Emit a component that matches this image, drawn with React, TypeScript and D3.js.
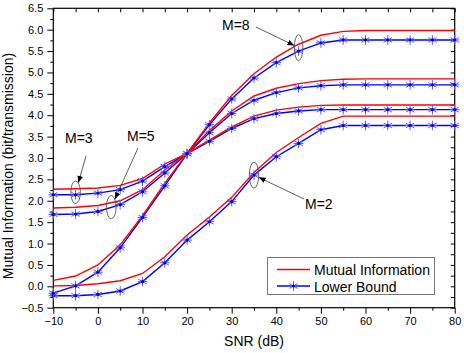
import * as d3 from 'd3'
import React, { useEffect, useRef } from 'react'

// SNR grid (dB)
const snr = [-10, -5, 0, 5, 10, 15, 20, 25, 30, 35, 40, 45, 50, 55, 60, 65, 70, 75, 80]

// mutual information (red) / lower bound (blue), one pair per M
const miM2 = [0.01, 0.02, 0.06, 0.13, 0.3, 0.69, 1.2, 1.62, 2.08, 2.66, 3.13, 3.48, 3.81, 3.98, 3.98, 3.98, 3.98, 3.98, 3.98]
const lbM2 = [-0.22, -0.22, -0.19, -0.11, 0.11, 0.55, 1.08, 1.51, 1.98, 2.6, 3.03, 3.34, 3.66, 3.76, 3.76, 3.76, 3.76, 3.76, 3.76]
const miM3 = [2.27, 2.28, 2.3, 2.36, 2.52, 2.86, 3.11, 3.42, 3.73, 3.98, 4.12, 4.19, 4.23, 4.24, 4.24, 4.24, 4.24, 4.24, 4.24]
const lbM3 = [2.14, 2.14, 2.18, 2.26, 2.46, 2.8, 3.1, 3.39, 3.69, 3.92, 4.04, 4.1, 4.13, 4.13, 4.13, 4.13, 4.13, 4.13, 4.13]
const miM5 = [1.83, 1.85, 1.89, 2.0, 2.26, 2.72, 3.11, 3.64, 4.1, 4.45, 4.63, 4.74, 4.81, 4.84, 4.85, 4.85, 4.85, 4.85, 4.85]
const lbM5 = [1.68, 1.69, 1.75, 1.91, 2.21, 2.65, 3.1, 3.59, 4.04, 4.35, 4.53, 4.64, 4.69, 4.71, 4.71, 4.71, 4.71, 4.71, 4.71]
const miM8 = [0.14, 0.24, 0.5, 0.97, 1.65, 2.41, 3.11, 3.82, 4.46, 4.97, 5.36, 5.66, 5.87, 5.96, 5.98, 5.98, 5.98, 5.98, 5.98]
const lbM8 = [-0.16, 0.01, 0.33, 0.9, 1.61, 2.35, 3.1, 3.78, 4.38, 4.87, 5.23, 5.5, 5.69, 5.76, 5.76, 5.76, 5.76, 5.76, 5.76]

const xMajor = [-10, 0, 10, 20, 30, 40, 50, 60, 70, 80]
const xMinor = [-5, 5, 15, 25, 35, 45, 55, 65, 75]
const yMajor = [-0.5, 0, 0.5, 1, 1.5, 2, 2.5, 3, 3.5, 4, 4.5, 5, 5.5, 6, 6.5]
const yMinor = [-0.25, 0.25, 0.75, 1.25, 1.75, 2.25, 2.75, 3.25, 3.75, 4.25, 4.75, 5.25, 5.75, 6.25]

const legendLabels = ['Mutual Information', 'Lower Bound']

const FONT = '"Liberation Sans", Arial, Helvetica, sans-serif'

export default function App() {
  const sandbox = useRef<SVGSVGElement>(null)

  useEffect(() => {
    const svg = d3.select(sandbox.current)
    svg.selectAll('*').remove()
    renderChart(svg)
  }, [sandbox])

  return (
    <svg
      ref={sandbox}
      width="464"
      height="353"
      style={{ position: 'absolute', left: 0, top: 0, background: '#fff' }}
    />
  )
}

const starPath = (r: number) => {
  const a = r * Math.cos(Math.PI / 6)
  const b = r * Math.sin(Math.PI / 6)
  return `M0,${-r}L0,${r}M${-a},${-b}L${a},${b}M${-a},${b}L${a},${-b}M${-r},0L${r},0`
}

const renderChart = (svg: any) => {
  const x = d3.scaleLinear().domain([-10, 80]).range([53.3, 454.7])
  const y = d3.scaleLinear().domain([-0.5, 6.5]).range([307.7, 8.3])
  const [x0, x1] = x.range()
  const [y0, y1] = y.range()

  const defs = svg.append('defs')
  defs
    .append('marker')
    .attr('id', 'arrow')
    .attr('viewBox', '0 0 10 10')
    .attr('refX', 10)
    .attr('refY', 5)
    .attr('markerWidth', 7)
    .attr('markerHeight', 7)
    .attr('markerUnits', 'userSpaceOnUse')
    .attr('orient', 'auto')
    .append('path')
    .attr('d', 'M0,1L10,5L0,9Z')
    .attr('fill', '#000')

  const styleAxis = (g: any) => {
    g.select('.domain').remove()
    g.selectAll('line').attr('stroke', '#000').attr('stroke-width', 1)
    g.attr('font-family', FONT).attr('font-size', 11)
    g.selectAll('text').attr('fill', '#000')
  }

  // left
  svg
    .append('g')
    .attr('transform', `translate(${x0},0)`)
    .call(d3.axisLeft(y).tickValues(yMajor).tickSizeInner(6).tickSizeOuter(0).tickPadding(4).tickFormat(d3.format('.1f')))
    .call(styleAxis)
  svg
    .append('g')
    .attr('transform', `translate(${x0},0)`)
    .call(d3.axisLeft(y).tickValues(yMinor).tickSizeInner(3).tickSizeOuter(0).tickFormat(() => ''))
    .call(styleAxis)
  // bottom
  svg
    .append('g')
    .attr('transform', `translate(0,${y0})`)
    .call(d3.axisBottom(x).tickValues(xMajor).tickSizeInner(6).tickSizeOuter(0).tickPadding(4).tickFormat(d3.format('d')))
    .call(styleAxis)
  svg
    .append('g')
    .attr('transform', `translate(0,${y0})`)
    .call(d3.axisBottom(x).tickValues(xMinor).tickSizeInner(3).tickSizeOuter(0).tickFormat(() => ''))
    .call(styleAxis)
  // top + right, ticks inside
  svg
    .append('g')
    .attr('transform', `translate(0,${y1})`)
    .call(d3.axisTop(x).tickValues([...xMajor, ...xMinor]).tickSizeInner(-4).tickSizeOuter(0).tickFormat(() => ''))
    .call(styleAxis)
  svg
    .append('g')
    .attr('transform', `translate(${x1},0)`)
    .call(d3.axisRight(y).tickValues([...yMajor, ...yMinor]).tickSizeInner(-4).tickSizeOuter(0).tickFormat(() => ''))
    .call(styleAxis)

  svg
    .append('rect')
    .attr('x', x0)
    .attr('y', y1)
    .attr('width', x1 - x0)
    .attr('height', y0 - y1)
    .attr('fill', 'none')
    .attr('stroke', '#000')
    .attr('stroke-width', 1.2)

  // axis titles
  svg
    .append('text')
    .attr('x', (x0 + x1) / 2)
    .attr('y', 346)
    .attr('text-anchor', 'middle')
    .attr('font-family', FONT)
    .attr('font-size', 14)
    .text('SNR (dB)')
  svg
    .append('text')
    .attr('transform', `translate(13,166) rotate(-90)`)
    .attr('text-anchor', 'middle')
    .attr('font-family', FONT)
    .attr('font-size', 14)
    .text('Mutual Information (bit/transmission)')

  const line = d3
    .line<number>()
    .x((d, i) => x(snr[i]))
    .y(d => y(d))

  const lower = [lbM2, lbM3, lbM5, lbM8]
  const mutual = [miM2, miM3, miM5, miM8]

  const plot = svg.append('g')
  lower.forEach(series => {
    plot
      .append('path')
      .attr('d', line(series))
      .attr('fill', 'none')
      .attr('stroke', '#0000ff')
      .attr('stroke-width', 1.4)
  })
  mutual.forEach(series => {
    plot
      .append('path')
      .attr('d', line(series))
      .attr('fill', 'none')
      .attr('stroke', '#ff0000')
      .attr('stroke-width', 1.4)
  })

  const drawStar = (g: any, cx: number, cy: number) => {
    g.append('path')
      .attr('d', starPath(4.8))
      .attr('transform', `translate(${cx},${cy})`)
      .attr('stroke', '#5a5aff')
      .attr('stroke-width', 1)
      .attr('fill', 'none')
    g.append('circle').attr('cx', cx).attr('cy', cy).attr('r', 1.6).attr('fill', '#0000cc')
  }

  lower.forEach(series => {
    series.forEach((v, i) => drawStar(plot, x(snr[i]), y(v)))
  })

  // annotations: ellipses + arrows + labels
  const notes = [
    { label: 'M=8', tx: 222, ty: 30, from: [256, 27], s: 45, v: 5.58, rx: 4.3, ry: 13 },
    { label: 'M=2', tx: 305, ty: 209, from: [304, 199], s: 35, v: 2.6, rx: 4.7, ry: 13 },
    { label: 'M=3', tx: 65, ty: 143, from: [86, 156], s: -5, v: 2.2, rx: 4.8, ry: 11.3 },
    { label: 'M=5', tx: 127, ty: 141, from: [138, 148], s: 3, v: 1.85, rx: 4.8, ry: 11.7 }
  ]
  notes.forEach(n => {
    const cx = x(n.s)
    const cy = y(n.v)
    svg
      .append('ellipse')
      .attr('cx', cx)
      .attr('cy', cy)
      .attr('rx', n.rx)
      .attr('ry', n.ry)
      .attr('fill', 'none')
      .attr('stroke', '#555')
      .attr('stroke-width', 0.9)
    // arrow ends on the ellipse edge
    const dx = n.from[0] - cx
    const dy = n.from[1] - cy
    const t = 1 / Math.sqrt((dx * dx) / (n.rx * n.rx) + (dy * dy) / (n.ry * n.ry))
    svg
      .append('line')
      .attr('x1', n.from[0])
      .attr('y1', n.from[1])
      .attr('x2', cx + dx * t)
      .attr('y2', cy + dy * t)
      .attr('stroke', '#333')
      .attr('stroke-width', 0.8)
      .attr('marker-end', 'url(#arrow)')
    svg
      .append('text')
      .attr('x', n.tx)
      .attr('y', n.ty)
      .attr('font-family', FONT)
      .attr('font-size', 14)
      .text(n.label)
  })

  // legend
  const lg = svg.append('g')
  lg.append('rect')
    .attr('x', 267.5)
    .attr('y', 257.5)
    .attr('width', 167)
    .attr('height', 37)
    .attr('fill', '#fff')
    .attr('stroke', '#777')
    .attr('stroke-width', 1)
  const colors = ['#ff0000', '#0000ff']
  legendLabels.forEach((lab, i) => {
    const ly = 269.5 + i * 16.5
    lg.append('line')
      .attr('x1', 277)
      .attr('x2', 310)
      .attr('y1', ly)
      .attr('y2', ly)
      .attr('stroke', colors[i])
      .attr('stroke-width', 1.4)
    if (i === 1) drawStar(lg, 293.5, ly)
    lg.append('text')
      .attr('x', 314)
      .attr('y', ly + 5.5)
      .attr('font-family', FONT)
      .attr('font-size', 14)
      .text(lab)
  })
}
